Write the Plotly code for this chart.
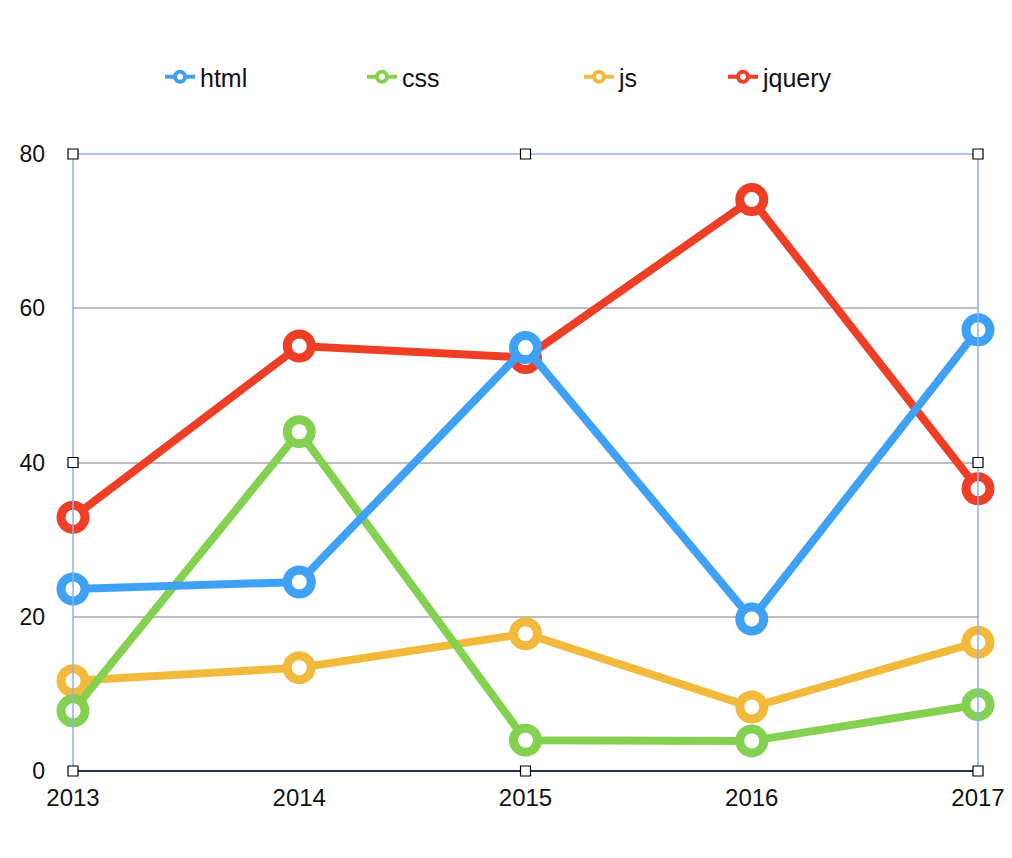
import plotly.graph_objects as go

years = [2013, 2014, 2015, 2016, 2017]
html = [23.6, 24.5, 54.9, 19.7, 57.2]
css = [7.8, 44.0, 4.0, 3.9, 8.6]
js = [11.7, 13.4, 17.8, 8.3, 16.7]
jquery = [32.9, 55.1, 53.6, 74.1, 36.6]

series_names = ["html", "css", "js", "jquery"]
series_values = [html, css, js, jquery]
colors = ["#3fa1f6", "#84d151", "#f2ba3c", "#ee3f26"]

fig = go.Figure()

# draw order: jquery, js, css, html (html on top)
for idx in [3, 2, 1, 0]:
    fig.add_trace(go.Scatter(
        x=years, y=series_values[idx], name=series_names[idx],
        mode="lines+markers",
        line=dict(color=colors[idx], width=8),
        marker=dict(symbol="circle", size=24, color="white",
                    line=dict(color=colors[idx], width=9)),
        cliponaxis=False, showlegend=False,
    ))

for i, name in enumerate(series_names):
    lg = "legend" if i == 0 else f"legend{i+1}"
    fig.add_trace(go.Scatter(
        x=[None], y=[None], name=name, mode="lines+markers",
        line=dict(color=colors[i], width=4),
        marker=dict(symbol="circle", size=10, color="white",
                    line=dict(color=colors[i], width=4)),
        showlegend=True, legend=lg,
    ))

W, H = 1012, 858
L, R, T, B = 73, 34, 154, 87
PW, PH = W - L - R, H - T - B

legend_px = [160, 362, 579, 723]
layout_legends = {}
for i in range(4):
    key = "legend" if i == 0 else f"legend{i+1}"
    layout_legends[key] = dict(
        x=(legend_px[i] - L) / PW, y=(H - B - 77) / PH, xanchor="left", yanchor="middle",
        orientation="h", bgcolor="rgba(0,0,0,0)", borderwidth=0,
        font=dict(family="Liberation Sans, Arial, sans-serif", size=25, color="#111"),
        itemsizing="trace",
    )

shapes = []
shapes.append(dict(type="rect", xref="x domain", yref="y domain", x0=0, x1=1, y0=0, y1=1,
                   line=dict(color="#8fb0f5", width=1.5), layer="above"))
shapes.append(dict(type="line", xref="x domain", yref="y domain", x0=0, x1=1, y0=0, y1=0,
                   line=dict(color="#24335f", width=2), layer="above"))
for hx in [0, 0.5, 1]:
    for hy in [0, 0.5, 1]:
        if hx == 0.5 and hy == 0.5:
            continue
        shapes.append(dict(type="rect", xref="x domain", yref="y domain",
                           xsizemode="pixel", ysizemode="pixel",
                           xanchor=hx, yanchor=hy, x0=-5, x1=5, y0=-5, y1=5,
                           fillcolor="white", line=dict(color="black", width=1.2),
                           layer="above"))

fig.update_layout(
    width=W, height=H,
    margin=dict(l=L, r=R, t=T, b=B, pad=0, autoexpand=False),
    paper_bgcolor="white", plot_bgcolor="white",
    font=dict(family="Liberation Sans, Arial, sans-serif", size=24, color="#111"),
    shapes=shapes,
    **layout_legends,
)
fig.update_xaxes(range=[2013, 2017], tickmode="array", tickvals=years,
                 ticktext=[str(y) for y in years], showgrid=False, zeroline=False,
                 showline=False, ticks="", ticklabelstandoff=10, automargin=False,
                 tickfont=dict(size=24))
fig.update_yaxes(range=[0, 80], dtick=20, tick0=0, showgrid=True,
                 gridcolor="#bdbdbd", gridwidth=1.5, zeroline=False,
                 showline=False, ticks="", ticklabelstandoff=27, automargin=False,
                 tickfont=dict(size=23))

fig.write_html("out.html")
